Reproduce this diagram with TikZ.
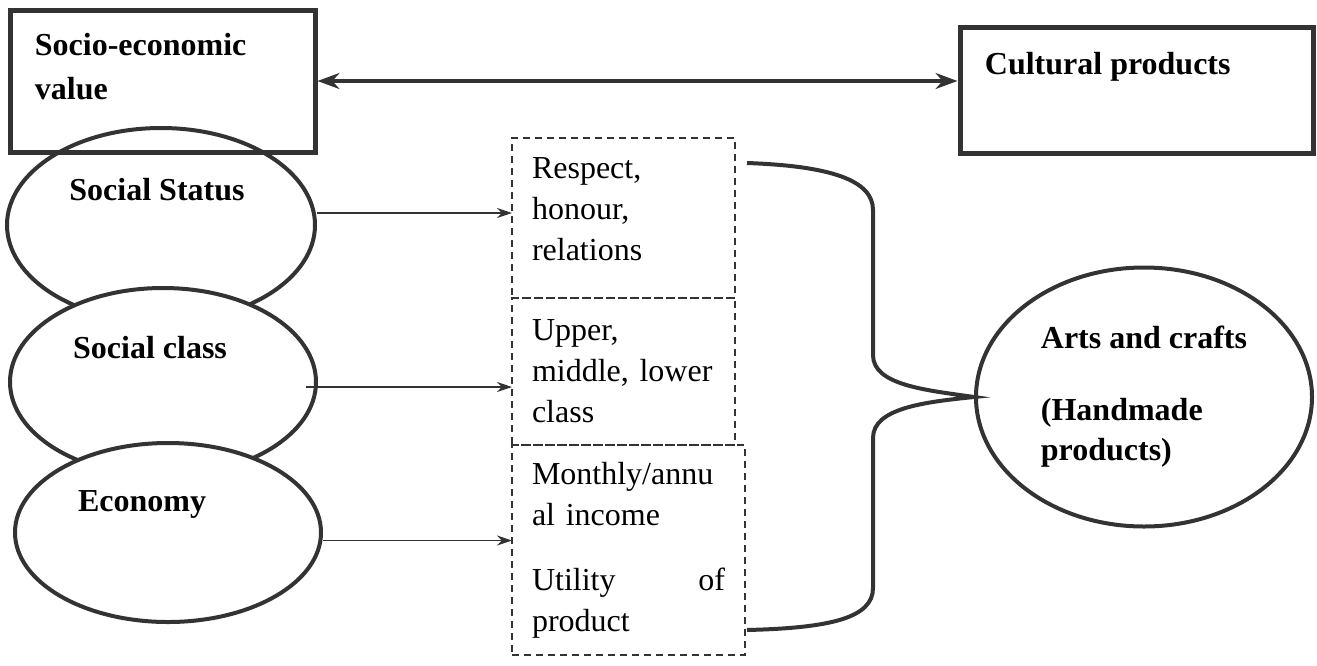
\documentclass[tikz,border=0pt]{standalone}
\usepackage{fontspec}
\setmainfont{Liberation Serif}
\usetikzlibrary{shapes.geometric,positioning,arrows.meta}
\newcommand{\diagfont}{\fontsize{16}{20.5}\selectfont}

\tikzset{
  valbox/.style={draw=black!80, line width=2.5pt, inner sep=0pt},
  oval/.style={ellipse, draw=black!80, line width=2pt, inner sep=0pt, align=left},
  dbox/.style={draw=black!80, line width=1pt, dash pattern=on 3.5pt off 2.5pt,
    inner xsep=10pt, inner ysep=0pt, outer sep=0pt, align=left},
  lbl/.style={inner sep=0pt, align=left, font={\fontsize{16}{22}\selectfont\bfseries}},
  arr/.style={-{Stealth[length=7.5pt,width=5pt]}, draw=black!80, line width=0.75pt},
  joinline/.style={draw=black!80, line width=2pt}
}

\begin{document}
\begin{tikzpicture}[x=0.5pt, y=-0.5pt, font=\diagfont]
\useasboundingbox (0,0) rectangle (1317,665);
% top row
\node[valbox, minimum width=152.5pt, minimum height=71pt] (sev) at (162.5,81) {};
\node[lbl, below right=12.5pt and 13.5pt of sev.north west] (sevt) {Socio-economic\\value};
\node[valbox, minimum width=176.5pt, minimum height=63pt] (cp) at (1136.5,90) {};
\node[lbl, below right=13.5pt and 13.5pt of cp.north west] (cpt) {Cultural products};
\draw[{Stealth[length=11pt,width=8pt]}-{Stealth[length=11pt,width=8pt]}, black!80, line width=1.6pt]
  (sev.east) -- (sev.east -| cp.west);

% ellipses on the left
\node[oval, minimum width=154pt, minimum height=97pt] (sstat) at (161,225) {};
\node[oval, fill=white, minimum width=153pt, minimum height=94pt] (sclass) at (163,382) {};
\node[oval, fill=white, minimum width=153pt, minimum height=89.5pt] (econ) at (168,532.5) {};
\node[lbl] (sstatt) at ([xshift=-2pt,yshift=17.5pt]sstat.center) {Social Status};
\node[lbl] (sclasst) at ([xshift=-6.5pt,yshift=17pt]sclass.center) {Social class};
\node[lbl] (econt) at ([xshift=-13pt,yshift=14pt]econ.center) {Economy};

% dashed boxes
\node[dbox, text width=91.5pt, minimum height=80pt, text depth=50pt] (resp) at (623.5,218) {Respect,\\honour,\\relations};
\node[dbox, text width=91.5pt, minimum height=73.5pt, below=0pt of resp] (cls) {Upper,\\middle, lower\\class};
\node[dbox, text width=96.5pt, minimum height=105pt, anchor=north west] (inc) at (cls.south west)
  {Monthly/annu\\al income\\[12pt]\leavevmode\hbox to \hsize{Utility\hfill of}\\product};

\draw[arr] ([yshift=6pt]sstat.east) -- ([yshift=6pt]sstat.east -| resp.west);
\draw[arr] ([xshift=-6pt,yshift=-2.5pt]sclass.east) -- ([yshift=-2.5pt]sclass.east -| cls.west);
\draw[arr] ([yshift=-4pt]econ.east) -- ([yshift=-4pt]econ.east -| inc.west);

% right side
\node[oval, minimum width=168pt, minimum height=129.5pt, font={\fontsize{16}{20}\selectfont\bfseries}] (arts) at (1144,397)
  {Arts and crafts\\[16pt](Handmade\\products)};

\coordinate (btop) at (747,163);
\coordinate (bbot) at (747,630);
\draw[joinline] (btop) .. controls (830,166) and (873,180) .. (873,210) -- (873,355)
  .. controls (873,385) and (925,390) .. (arts.west)
  .. controls (925,402) and (873,408) .. (873,438) -- (873,588)
  .. controls (873,618) and (830,628) .. (bbot);
\end{tikzpicture}
\end{document}
